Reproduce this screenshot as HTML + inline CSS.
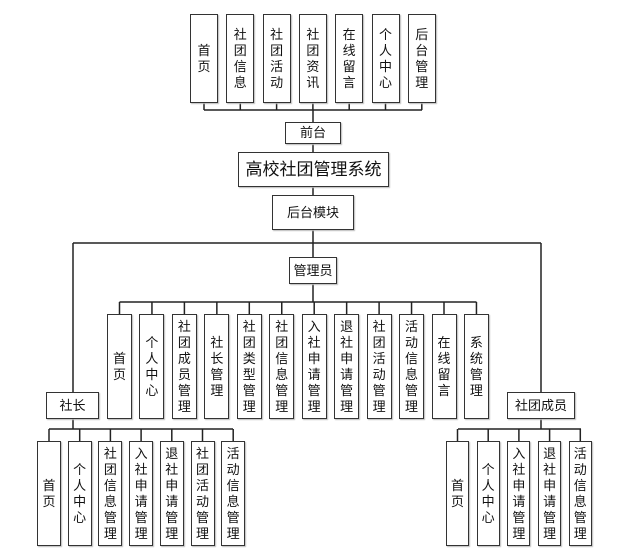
<!DOCTYPE html>
<html><head><meta charset="utf-8"><style>
body{margin:0;background:#fff;width:624px;height:556px;position:relative;overflow:hidden;font-family:"Liberation Sans","Noto Sans CJK SC",sans-serif;color:#111}
.b{position:absolute;box-sizing:border-box;border:1.5px solid #333;background:#fff;display:flex;align-items:center;justify-content:center;text-align:center;font-size:13px;line-height:16px;box-shadow:1px 1px 1px #bbb}
svg{position:absolute;left:0;top:0}
</style></head><body>
<svg width="624" height="556"><g stroke="#222" stroke-width="1.5" fill="none" id="g"></g></svg>
<div id="c"></div>
<script>
(function(){
var g=document.getElementById('g'),c=document.getElementById('c');
function L(x1,y1,x2,y2){var l=document.createElementNS('http://www.w3.org/2000/svg','line');l.setAttribute('x1',x1);l.setAttribute('y1',y1);l.setAttribute('x2',x2);l.setAttribute('y2',y2);g.appendChild(l);}
function B(x,y,w,h,t,v,fs){var d=document.createElement('div');d.className='b';d.style.cssText='left:'+x+'px;top:'+y+'px;width:'+w+'px;height:'+h+'px;'+(fs?'font-size:'+fs+'px;':'');d.innerHTML=v?t.split('').join('<br>'):t;c.appendChild(d);}
var tp=['首页','社团信息','社团活动','社团资讯','在线留言','个人中心','后台管理'];
for(var i=0;i<7;i++){var x=190+36.3*i;B(x,14,28,89,tp[i],1);L(x+14,103,x+14,110);}
L(204,110,422,110);L(313,110,313,122);
B(285,122,56,22,'前台');
L(313,144,313,152);
B(238,152,151,35,'高校社团管理系统',0,17);
L(313,187,313,195);
B(272,195,82,35,'后台模块');
L(313,230,313,257);
L(73,243,541,243);
B(289,257,48,27,'管理员');
L(313,284,313,302);L(119.5,302,476.5,302);
var ad=['首页','个人中心','社团成员管理','社长管理','社团类型管理','社团信息管理','入社申请管理','退社申请管理','社团活动管理','活动信息管理','在线留言','系统管理'];
for(var i=0;i<12;i++){var x=107+32.45*i;L(x+12.5,302,x+12.5,314);B(x,314,25,105,ad[i],1);}
L(73,243,73,392);
B(46,392,53,27,'社长');
L(73,419,73,429);L(49,429,233,429);
var sz=['首页','个人中心','社团信息管理','入社申请管理','退社申请管理','社团活动管理','活动信息管理'];
for(var i=0;i<7;i++){var x=37+30.7*i;L(x+12,429,x+12,441);B(x,441,24,105,sz[i],1);}
L(541,243,541,392);
B(507,392,68,27,'社团成员');
L(541,419,541,429);L(458,429,581,429);
var cy=['首页','个人中心','入社申请管理','退社申请管理','活动信息管理'];
for(var i=0;i<5;i++){var x=446+30.7*i;L(x+11.5,429,x+11.5,441);B(x,441,23,105,cy[i],1);}
})();
</script>
</body></html>
